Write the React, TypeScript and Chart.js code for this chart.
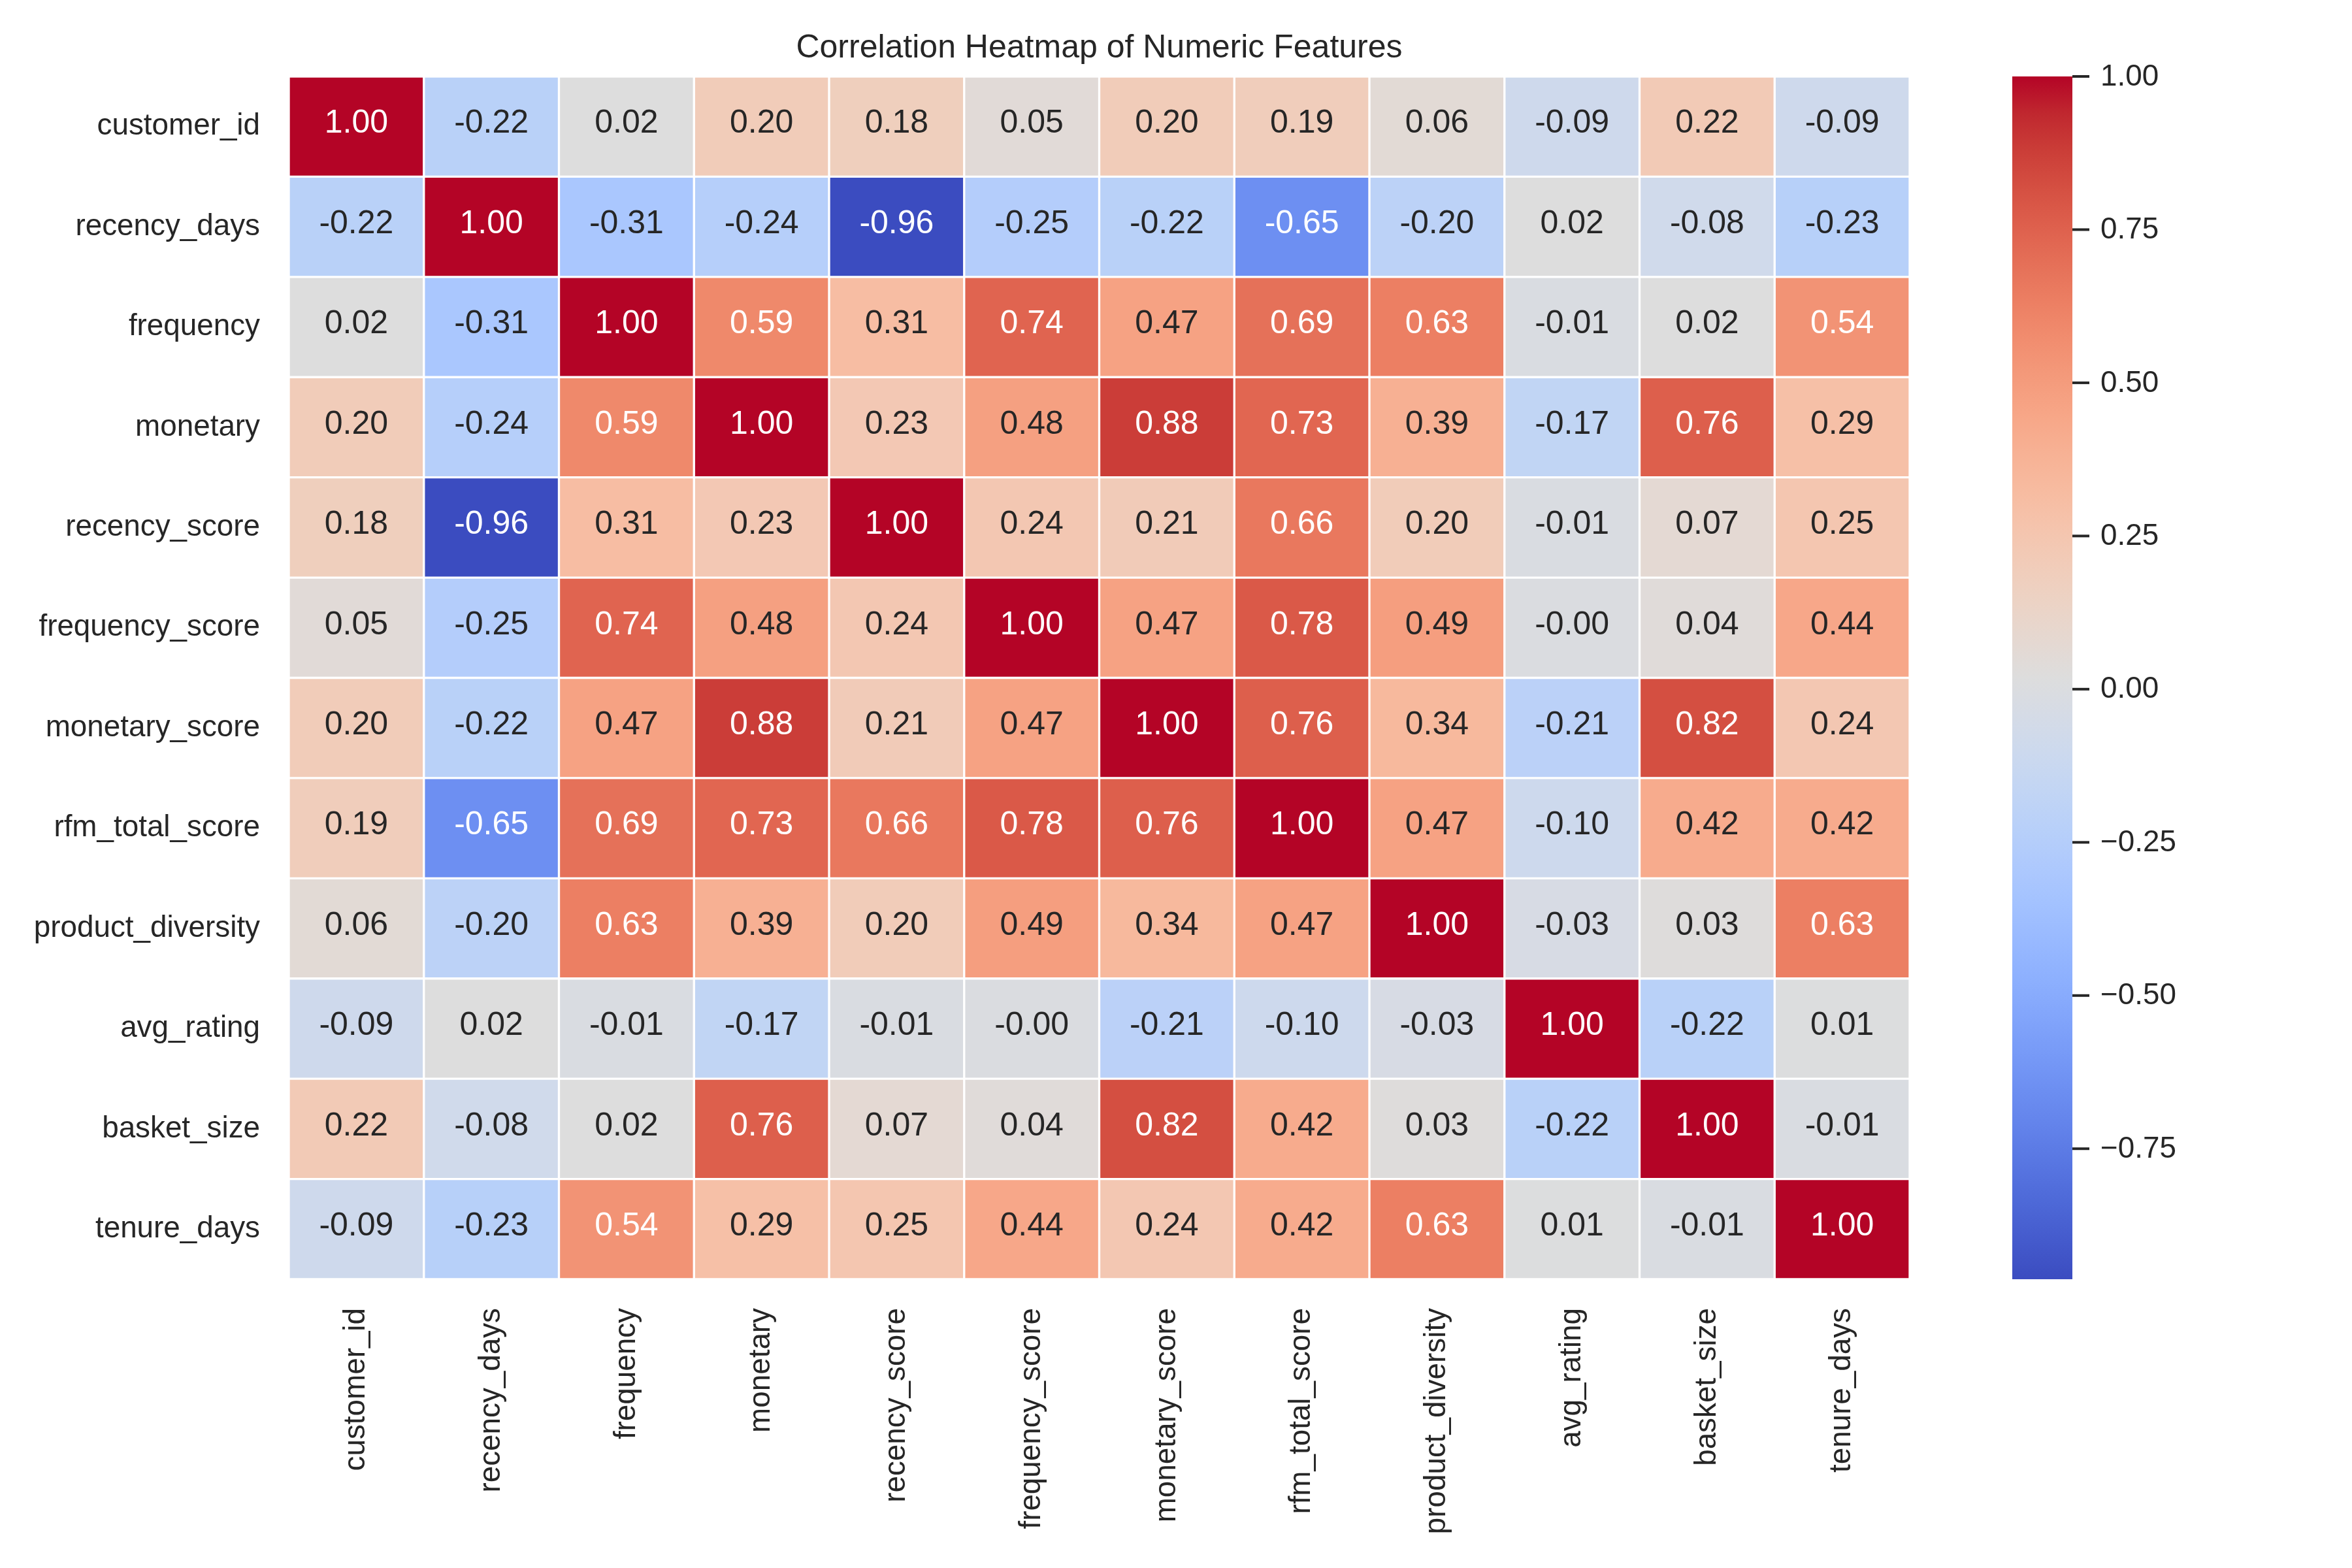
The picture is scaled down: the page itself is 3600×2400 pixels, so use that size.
import React, { useEffect, useRef } from 'react';
import { Chart, registerables } from 'chart.js';

Chart.register(...registerables);

const FONT = '"Liberation Sans", Arial, Helvetica, sans-serif';
const TEXT = '#262626';

const TITLE = 'Correlation Heatmap of Numeric Features';

const features = [
  'customer_id',
  'recency_days',
  'frequency',
  'monetary',
  'recency_score',
  'frequency_score',
  'monetary_score',
  'rfm_total_score',
  'product_diversity',
  'avg_rating',
  'basket_size',
  'tenure_days',
];

const customer_id = [1.0, -0.22, 0.02, 0.2, 0.18, 0.05, 0.2, 0.19, 0.06, -0.09, 0.22, -0.09];
const recency_days = [-0.22, 1.0, -0.31, -0.24, -0.963, -0.25, -0.22, -0.65, -0.2, 0.02, -0.08, -0.23];
const frequency = [0.02, -0.31, 1.0, 0.59, 0.31, 0.74, 0.47, 0.69, 0.63, -0.01, 0.02, 0.54];
const monetary = [0.2, -0.24, 0.59, 1.0, 0.23, 0.48, 0.88, 0.73, 0.39, -0.17, 0.76, 0.29];
const recency_score = [0.18, -0.963, 0.31, 0.23, 1.0, 0.24, 0.21, 0.66, 0.2, -0.01, 0.07, 0.25];
const frequency_score = [0.05, -0.25, 0.74, 0.48, 0.24, 1.0, 0.47, 0.78, 0.49, -0.004, 0.04, 0.44];
const monetary_score = [0.2, -0.22, 0.47, 0.88, 0.21, 0.47, 1.0, 0.76, 0.34, -0.21, 0.82, 0.24];
const rfm_total_score = [0.19, -0.65, 0.69, 0.73, 0.66, 0.78, 0.76, 1.0, 0.47, -0.1, 0.42, 0.42];
const product_diversity = [0.06, -0.2, 0.63, 0.39, 0.2, 0.49, 0.34, 0.47, 1.0, -0.03, 0.03, 0.63];
const avg_rating = [-0.09, 0.02, -0.01, -0.17, -0.01, -0.004, -0.21, -0.1, -0.03, 1.0, -0.22, 0.01];
const basket_size = [0.22, -0.08, 0.02, 0.76, 0.07, 0.04, 0.82, 0.42, 0.03, -0.22, 1.0, -0.01];
const tenure_days = [-0.09, -0.23, 0.54, 0.29, 0.25, 0.44, 0.24, 0.42, 0.63, 0.01, -0.01, 1.0];

const matrixRows = [
  customer_id,
  recency_days,
  frequency,
  monetary,
  recency_score,
  frequency_score,
  monetary_score,
  rfm_total_score,
  product_diversity,
  avg_rating,
  basket_size,
  tenure_days,
];

const colorbarTicks = [-0.75, -0.5, -0.25, 0.0, 0.25, 0.5, 0.75, 1.0];

const VMAX = 1.0;
const VMIN = Math.min(...matrixRows.flat());

// matplotlib "coolwarm" (Moreland), 33 evenly spaced control points
const COOLWARM: [number, number, number][] = [
  [59, 76, 192], [68, 90, 204], [77, 104, 215], [87, 117, 225], [98, 130, 234],
  [108, 142, 241], [119, 154, 247], [130, 165, 251], [141, 176, 254], [152, 185, 255],
  [163, 194, 255], [174, 201, 253], [184, 208, 249], [194, 213, 244], [204, 217, 238],
  [213, 219, 230], [221, 221, 221], [229, 216, 209], [236, 211, 197], [241, 204, 185],
  [245, 196, 173], [247, 187, 160], [247, 177, 148], [247, 166, 135], [244, 154, 123],
  [241, 141, 111], [236, 127, 99], [229, 112, 88], [222, 96, 77], [213, 80, 66],
  [203, 62, 56], [192, 40, 47], [180, 4, 38],
];

function rgbAt(v: number): [number, number, number] {
  let t = (v - VMIN) / (VMAX - VMIN);
  t = Math.max(0, Math.min(1, t));
  const p = t * (COOLWARM.length - 1);
  const i = Math.min(Math.floor(p), COOLWARM.length - 2);
  const f = p - i;
  const a = COOLWARM[i];
  const b = COOLWARM[i + 1];
  return [a[0] + (b[0] - a[0]) * f, a[1] + (b[1] - a[1]) * f, a[2] + (b[2] - a[2]) * f];
}

function cssColor(c: [number, number, number]) {
  return `rgb(${Math.round(c[0])}, ${Math.round(c[1])}, ${Math.round(c[2])})`;
}

function luminance(c: [number, number, number]) {
  const lin = c.map((x) => {
    const s = x / 255;
    return s <= 0.03928 ? s / 12.92 : Math.pow((s + 0.055) / 1.055, 2.4);
  });
  return 0.2126 * lin[0] + 0.7152 * lin[1] + 0.0722 * lin[2];
}

function annotColor(v: number) {
  return luminance(rgbAt(v)) > 0.43 ? TEXT : '#ffffff';
}

const annotPlugin = {
  id: 'annot',
  afterDatasetsDraw(chart: any) {
    const ctx = chart.ctx;
    ctx.save();
    ctx.font = `50px ${FONT}`;
    ctx.textAlign = 'center';
    ctx.textBaseline = 'middle';
    chart.data.datasets.forEach((_ds: any, r: number) => {
      const meta = chart.getDatasetMeta(r);
      meta.data.forEach((el: any, c: number) => {
        const v = matrixRows[r][c];
        const cy = (el.y + el.base) / 2;
        ctx.fillStyle = annotColor(v);
        ctx.fillText(v.toFixed(2), el.x, cy - 4);
      });
    });
    ctx.restore();
  },
};

const colorbarPlugin = {
  id: 'colorbar',
  afterDraw(chart: any) {
    const s = chart.scales.cb;
    const ctx = chart.ctx;
    const area = chart.chartArea;
    const left = area.right + 157;
    const width = 92;
    const top = s.getPixelForValue(VMAX);
    const bottom = s.getPixelForValue(VMIN);
    ctx.save();
    const g = ctx.createLinearGradient(0, bottom, 0, top);
    COOLWARM.forEach((c, i) => g.addColorStop(i / (COOLWARM.length - 1), cssColor(c)));
    ctx.fillStyle = g;
    ctx.fillRect(left, top, width, bottom - top);
    ctx.strokeStyle = TEXT;
    ctx.lineWidth = 4;
    ctx.fillStyle = TEXT;
    ctx.font = `45.8px ${FONT}`;
    ctx.textAlign = 'left';
    ctx.textBaseline = 'middle';
    colorbarTicks.forEach((t) => {
      const y = s.getPixelForValue(t);
      ctx.beginPath();
      ctx.moveTo(left + width, y);
      ctx.lineTo(left + width + 26, y);
      ctx.stroke();
      const label = t.toFixed(2).replace('-', '\u2212');
      ctx.fillText(label, left + width + 43, y + 1);
    });
    ctx.restore();
  },
};

export default function App() {
  const ref = useRef<HTMLCanvasElement | null>(null);

  useEffect(() => {
    if (!ref.current) return;
    const datasets = matrixRows.map((row, r) => ({
      label: features[r],
      data: row.map(() => [r - 0.5, r + 0.5]),
      backgroundColor: row.map((v) => cssColor(rgbAt(v))),
      borderColor: '#ffffff',
      borderWidth: 2,
      borderSkipped: false,
      grouped: false,
      barPercentage: 1,
      categoryPercentage: 1,
      yAxisID: 'y',
      xAxisID: 'x',
    }));

    const chart = new Chart(ref.current, {
      type: 'bar',
      data: { labels: features, datasets: datasets as any },
      options: {
        animation: false,
        responsive: false,
        devicePixelRatio: 1,
        layout: { padding: { left: 0, right: 677, top: 0, bottom: 0 } },
        plugins: {
          legend: { display: false },
          tooltip: { enabled: false },
          title: {
            display: true,
            text: TITLE,
            fullSize: false,
            color: TEXT,
            font: { family: FONT, size: 50, weight: 'normal', lineHeight: 1.2 },
            padding: { top: 44, bottom: 13 },
          },
        },
        scales: {
          x: {
            type: 'category',
            offset: true,
            grid: { display: false, drawTicks: false },
            border: { display: false },
            ticks: {
              color: TEXT,
              font: { family: FONT, size: 45.8 },
              minRotation: 90,
              maxRotation: 90,
              autoSkip: false,
              padding: 44,
            },
            afterFit: (s: any) => {
              s.height = 442;
            },
          },
          y: {
            type: 'linear',
            min: -0.5,
            max: 11.5,
            reverse: true,
            grid: { display: false, drawTicks: false },
            border: { display: false },
            ticks: {
              color: TEXT,
              font: { family: FONT, size: 45.8 },
              autoSkip: false,
              padding: 44,
              callback: (v: any) => features[Number(v)] ?? '',
            },
            afterBuildTicks: (s: any) => {
              s.ticks = features.map((_f, i) => ({ value: i }));
            },
            afterFit: (s: any) => {
              s.width = 442;
            },
          },
          cb: {
            type: 'linear',
            position: 'right',
            display: false,
            min: VMIN,
            max: VMAX,
          },
        },
      } as any,
      plugins: [annotPlugin, colorbarPlugin],
    });
    return () => chart.destroy();
  }, []);

  return (
    <div style={{ position: 'absolute', left: 0, top: 0, width: 3600, height: 2400, background: '#fff' }}>
      <canvas ref={ref} width={3600} height={2400} style={{ width: 3600, height: 2400, display: 'block' }} />
    </div>
  );
}
